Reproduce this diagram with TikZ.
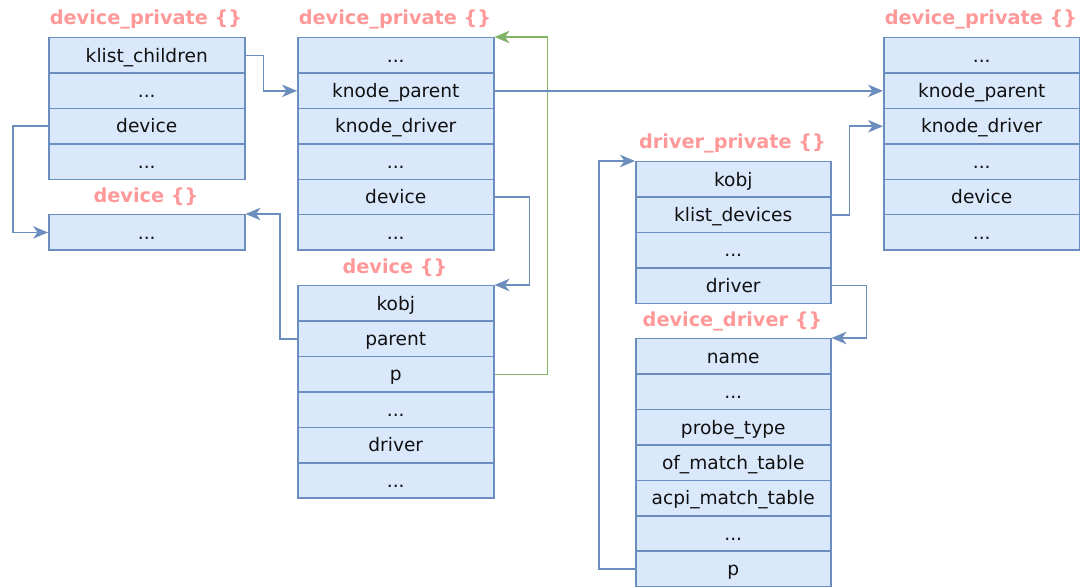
\documentclass[tikz,border=0pt]{standalone}
\usepackage{fontspec}
\setmainfont{DejaVu Sans}
\usetikzlibrary{arrows.meta}
\definecolor{fl}{HTML}{DAE8FC}
\definecolor{bd}{HTML}{6C8EBF}
\definecolor{gr}{HTML}{82B366}
\definecolor{tt}{HTML}{FF9999}
\definecolor{tx}{HTML}{111111}
\tikzset{
  cell/.style={draw=bd, fill=fl, line width=1.5pt, minimum width=196pt, minimum height=35.4pt,
    inner sep=0pt, anchor=north west, text=tx, font=\fontsize{18.6}{21}\selectfont,
    text height=15.5pt, text depth=2pt},
  ttl/.style={text=tt, font=\bfseries\fontsize{19.3}{22}\selectfont, inner sep=0pt},
  conn/.style={draw=bd, line width=1.5pt, -{Stealth[length=15pt,width=12.5pt,inset=4.5pt]}},
  gconn/.style={draw=gr, line width=1.5pt, -{Stealth[length=15pt,width=12.5pt,inset=4.5pt]}}
}
\begin{document}
\begin{tikzpicture}[x=1pt,y=-1pt]
\useasboundingbox (0,0) rectangle (1080,588);
% Box A: device_private (left)
\node[ttl] (tA) at (146,19) {device\_private \{\}};
\node[cell] (A1) at (48,37) {klist\_children};
\node[cell] (A2) at (48,72.4) {...};
\node[cell] (A3) at (48,107.8) {device};
\node[cell] (A4) at (48,143.2) {...};
% Box B: device (left)
\node[ttl] (tB) at (146,197) {device \{\}};
\node[cell] (B1) at (48,214) {...};
% Box C: device_private (middle)
\node[ttl] (tC) at (395,19) {device\_private \{\}};
\node[cell] (C1) at (297,37) {...};
\node[cell] (C2) at (297,72.4) {knode\_parent};
\node[cell] (C3) at (297,107.8) {knode\_driver};
\node[cell] (C4) at (297,143.2) {...};
\node[cell] (C5) at (297,178.6) {device};
\node[cell] (C6) at (297,214) {...};
% Box D: device (middle)
\node[ttl] (tD) at (395,268) {device \{\}};
\node[cell] (D1) at (297,285) {kobj};
\node[cell] (D2) at (297,320.4) {parent};
\node[cell] (D3) at (297,355.8) {p};
\node[cell] (D4) at (297,391.2) {...};
\node[cell] (D5) at (297,426.6) {driver};
\node[cell] (D6) at (297,462) {...};
% Box E: device_private (right)
\node[ttl] (tE) at (981,19) {device\_private \{\}};
\node[cell] (E1) at (883,37) {...};
\node[cell] (E2) at (883,72.4) {knode\_parent};
\node[cell] (E3) at (883,107.8) {knode\_driver};
\node[cell] (E4) at (883,143.2) {...};
\node[cell] (E5) at (883,178.6) {device};
\node[cell] (E6) at (883,214) {...};
% Box F: driver_private
\node[ttl] (tF) at (732.5,143) {driver\_private \{\}};
\node[cell, minimum width=195pt] (F1) at (635,161) {kobj};
\node[cell, minimum width=195pt] (F2) at (635,196.4) {klist\_devices};
\node[cell, minimum width=195pt] (F3) at (635,231.8) {...};
\node[cell, minimum width=195pt] (F4) at (635,267.2) {driver};
% Box G: device_driver
\node[ttl] (tG) at (732.5,321) {device\_driver \{\}};
\node[cell, minimum width=195pt] (G1) at (635,338) {name};
\node[cell, minimum width=195pt] (G2) at (635,373.4) {...};
\node[cell, minimum width=195pt] (G3) at (635,408.8) {probe\_type};
\node[cell, minimum width=195pt] (G4) at (635,444.2) {of\_match\_table};
\node[cell, minimum width=195pt] (G5) at (635,479.6) {acpi\_match\_table};
\node[cell, minimum width=195pt] (G6) at (635,515) {...};
\node[cell, minimum width=195pt] (G7) at (635,550.4) {p};
% connectors
\draw[conn] (A1.east) -- ++(18,0) |- (C2.west);
\draw[conn] (A3.west) -- ++(-35,0) |- (B1.west);
\draw[conn] (D2.west) -- ++(-17,0) |- (B1.north east);
\draw[conn] (C5.east) -- ++(35,0) |- (D1.north east);
\draw[gconn] (D3.east) -- ++(53,0) |- (C1.north east);
\draw[conn] (C2.east) -- (E2.west);
\draw[conn] (F2.east) -- ++(18,0) |- (E3.west);
\draw[conn] (F4.east) -- ++(35,0) |- (G1.north east);
\draw[conn] (G7.west) -- ++(-36,0) |- (F1.north west);
\end{tikzpicture}
\end{document}
